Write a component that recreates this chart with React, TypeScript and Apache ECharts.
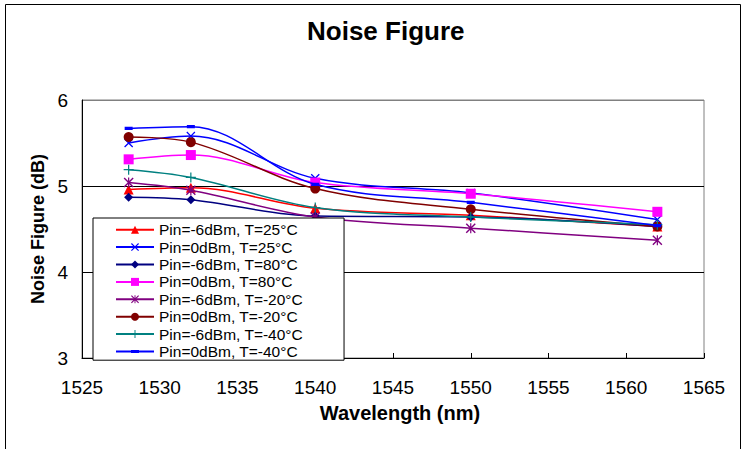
import React, { useEffect, useRef } from "react";
import * as echarts from "echarts";

const wavelengths = [1528, 1532, 1540, 1550, 1562];

const seriesNames = [
  "Pin=-6dBm, T=25°C",
  "Pin=0dBm, T=25°C",
  "Pin=-6dBm, T=80°C",
  "Pin=0dBm, T=80°C",
  "Pin=-6dBm, T=-20°C",
  "Pin=0dBm, T=-20°C",
  "Pin=-6dBm, T=-40°C",
  "Pin=0dBm, T=-40°C",
];

const nfM6_25 = [4.96, 4.98, 4.74, 4.66, 4.53];
const nf0_25 = [5.5, 5.58, 5.09, 4.92, 4.61];
const nfM6_80 = [4.87, 4.84, 4.65, 4.64, 4.53];
const nf0_80 = [5.31, 5.36, 5.04, 4.91, 4.7];
const nfM6_m20 = [5.04, 4.95, 4.64, 4.51, 4.37];
const nf0_m20 = [5.57, 5.51, 4.97, 4.73, 4.53];
const nfM6_m40 = [5.19, 5.1, 4.75, 4.64, 4.55];
const nf0_m40 = [5.67, 5.69, 5.02, 4.81, 4.54];

const xTicks = { min: 1525, max: 1565, interval: 5 };
const yTicks = { min: 3, max: 6, interval: 1 };

const X_PATH =
  "path://M0,1 L1,0 L5,4 L9,0 L10,1 L6,5 L10,9 L9,10 L5,6 L1,10 L0,9 L4,5 Z";
const STAR_PATH =
  "path://M0,1 L1,0 L5,4 L9,0 L10,1 L6,5 L10,9 L9,10 L5,6 L1,10 L0,9 L4,5 Z M4.4,0 L5.6,0 L5.6,10 L4.4,10 Z";
const PLUS_PATH =
  "path://M4.4,0 L5.6,0 L5.6,4.4 L10,4.4 L10,5.6 L5.6,5.6 L5.6,10 L4.4,10 L4.4,5.6 L0,5.6 L0,4.4 L4.4,4.4 Z";
const SMALL_RECT_PATH = "path://M0,3 L10,3 L10,7 L0,7 Z M0,0 L0.01,0 L0.01,0.01 Z M9.99,9.99 L10,9.99 L10,10 Z";

const FONT = "'Liberation Sans', Arial, sans-serif";

export default function App() {
  const ref = useRef<HTMLDivElement>(null);

  useEffect(() => {
    document.body.style.margin = "0";
    const chart = echarts.init(ref.current!, null, { renderer: "svg" });

    const allData = [nfM6_25, nf0_25, nfM6_80, nf0_80, nfM6_m20, nf0_m20, nfM6_m40, nf0_m40];
    const colors = ["#FF0000", "#0000FF", "#000080", "#FF00FF", "#800080", "#800000", "#008080", "#0000FF"];
    const symbols = ["triangle", X_PATH, "diamond", "rect", STAR_PATH, "circle", PLUS_PATH, SMALL_RECT_PATH];
    const sizes: any[] = [10, 9, 9, 10, 10, 10, 10, 8];

    const series = allData.map((vals, i) => ({
      name: seriesNames[i],
      type: "line",
      data: wavelengths.map((w, j) => [w, vals[j]]),
      smooth: 0.35,
      symbol: symbols[i],
      symbolSize: sizes[i],
      showSymbol: true,
      color: colors[i],
      lineStyle: { color: colors[i], width: 1.5 },
      itemStyle: { color: colors[i], borderWidth: 0 },
      z: 2 + i,
    }));

    chart.setOption({
      animation: false,
      backgroundColor: "#ffffff",
      title: {
        text: "Noise Figure",
        left: 302,
        top: 13,
        textStyle: { fontFamily: FONT, fontSize: 26, fontWeight: "bold", color: "#000" },
      },
      grid: {
        left: 82,
        right: 39,
        top: 100,
        bottom: 91,
        show: true,
        borderColor: "#808080",
        borderWidth: 1,
        backgroundColor: "transparent",
      },
      legend: {
        orient: "vertical",
        left: 93,
        top: 218,
        padding: [3, 41, 0, 22],
        itemGap: 0,
        itemWidth: 38,
        itemHeight: 10,
        backgroundColor: "#ffffff",
        borderColor: "#000",
        borderWidth: 1,
        textStyle: { fontFamily: FONT, fontSize: 15.5, color: "#000", lineHeight: 17.4 },
        data: seriesNames,
        z: 10,
      },
      xAxis: {
        type: "value",
        min: xTicks.min,
        max: xTicks.max,
        interval: xTicks.interval,
        name: "Wavelength (nm)",
        nameLocation: "middle",
        nameGap: 45,
        nameTextStyle: {
          fontFamily: FONT,
          fontSize: 20,
          fontWeight: "bold",
          color: "#000",
          padding: [0, 0, 0, 14],
        },
        axisLine: { show: true, lineStyle: { color: "#000", width: 1 } },
        axisTick: { show: true, inside: true, length: 5, lineStyle: { color: "#000" } },
        axisLabel: {
          fontFamily: FONT,
          fontSize: 19,
          color: "#000",
          margin: 20,
          formatter: (v: number) => String(v),
        },
        splitLine: { show: false },
      },
      yAxis: {
        type: "value",
        min: yTicks.min,
        max: yTicks.max,
        interval: yTicks.interval,
        name: "Noise Figure (dB)",
        nameLocation: "middle",
        nameGap: 31,
        nameTextStyle: { fontFamily: FONT, fontSize: 18, fontWeight: "bold", color: "#000" },
        axisLine: { show: true, lineStyle: { color: "#000", width: 1 } },
        axisTick: { show: false },
        axisLabel: { fontFamily: FONT, fontSize: 19, color: "#000", margin: 14 },
        splitLine: {
          show: true,
          lineStyle: { color: ["#000", "#000", "#000", "#808080"], width: 1 },
        },
      },
      graphic: [
        {
          type: "rect",
          shape: { x: 5.5, y: 4.5, width: 735, height: 470 },
          style: { fill: "none", stroke: "#000", lineWidth: 1 },
          silent: true,
          z: 100,
        },
      ],
      series,
    });

    return () => chart.dispose();
  }, []);

  return <div ref={ref} style={{ width: 743, height: 449 }} />;
}
